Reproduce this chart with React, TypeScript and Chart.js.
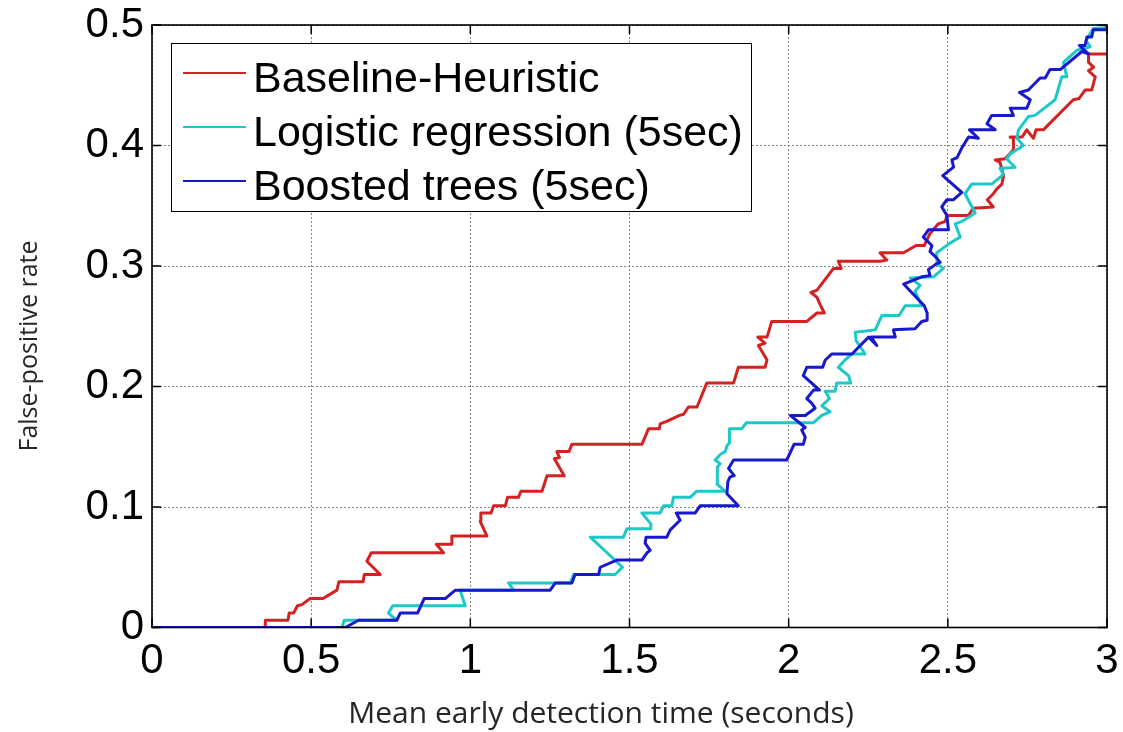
import React, { useEffect, useRef } from "react";
import { Chart, registerables } from "chart.js";

Chart.register(...registerables);

// ---------- data ----------
const seriesLabels = ["Baseline-Heuristic", "Logistic regression (5sec)", "Boosted trees (5sec)"];
const seriesColors = ["#D42222", "#1FC8C8", "#1818CC"];

const xTickLabels = ["0", "0.5", "1", "1.5", "2", "2.5", "3"];
const yTickLabels = ["0", "0.1", "0.2", "0.3", "0.4", "0.5"];

const heuristicX = [0, 0.356, 0.356, 0.427, 0.431, 0.445, 0.457, 0.471, 0.497, 0.537, 0.581, 0.587, 0.663, 0.667, 0.717, 0.675, 0.689, 0.916, 0.893, 0.942, 0.942, 1.052, 1.031, 1.033, 1.065, 1.073, 1.11, 1.117, 1.151, 1.159, 1.225, 1.241, 1.295, 1.264, 1.28, 1.272, 1.31, 1.319, 1.539, 1.56, 1.594, 1.596, 1.617, 1.657, 1.67, 1.685, 1.712, 1.743, 1.827, 1.842, 1.926, 1.932, 1.905, 1.926, 1.903, 1.932, 1.947, 2.057, 2.089, 2.112, 2.099, 2.089, 2.07, 2.089, 2.141, 2.165, 2.156, 2.287, 2.308, 2.287, 2.361, 2.4, 2.426, 2.444, 2.47, 2.492, 2.497, 2.565, 2.58, 2.643, 2.624, 2.643, 2.654, 2.67, 2.675, 2.664, 2.649, 2.68, 2.705, 2.706, 2.696, 2.733, 2.748, 2.769, 2.777, 2.8, 2.894, 2.912, 2.931, 2.952, 2.963, 2.942, 2.958, 2.942, 2.942, 3.0];
const heuristicY = [0, 0, 0.006, 0.006, 0.012, 0.012, 0.018, 0.019, 0.024, 0.024, 0.031, 0.038, 0.038, 0.044, 0.044, 0.055, 0.062, 0.062, 0.069, 0.069, 0.076, 0.076, 0.088, 0.095, 0.095, 0.101, 0.101, 0.108, 0.108, 0.113, 0.113, 0.126, 0.126, 0.14, 0.141, 0.146, 0.146, 0.152, 0.152, 0.165, 0.165, 0.169, 0.171, 0.176, 0.177, 0.183, 0.183, 0.203, 0.203, 0.216, 0.216, 0.222, 0.234, 0.236, 0.241, 0.241, 0.254, 0.254, 0.261, 0.261, 0.268, 0.274, 0.278, 0.28, 0.298, 0.298, 0.304, 0.304, 0.305, 0.311, 0.311, 0.317, 0.317, 0.327, 0.335, 0.337, 0.342, 0.342, 0.348, 0.349, 0.355, 0.36, 0.364, 0.368, 0.375, 0.386, 0.388, 0.389, 0.396, 0.406, 0.407, 0.407, 0.413, 0.406, 0.413, 0.413, 0.438, 0.439, 0.446, 0.446, 0.457, 0.462, 0.465, 0.469, 0.476, 0.476];

const logisticX = [0, 0.597, 0.604, 0.769, 0.743, 0.756, 0.984, 0.968, 1.0, 1.136, 1.12, 1.314, 1.324, 1.455, 1.478, 1.458, 1.377, 1.481, 1.492, 1.565, 1.567, 1.539, 1.596, 1.607, 1.633, 1.638, 1.691, 1.71, 1.801, 1.775, 1.776, 1.785, 1.769, 1.787, 1.801, 1.806, 1.814, 1.814, 1.853, 1.867, 2.078, 2.104, 2.13, 2.104, 2.128, 2.115, 2.146, 2.151, 2.195, 2.188, 2.156, 2.177, 2.199, 2.24, 2.225, 2.212, 2.209, 2.272, 2.293, 2.347, 2.366, 2.418, 2.397, 2.413, 2.382, 2.455, 2.486, 2.466, 2.465, 2.507, 2.539, 2.523, 2.544, 2.586, 2.554, 2.575, 2.638, 2.675, 2.664, 2.711, 2.685, 2.696, 2.737, 2.717, 2.722, 2.753, 2.774, 2.837, 2.847, 2.858, 2.874, 2.863, 2.905, 2.947, 2.934, 2.957, 3.0];
const logisticY = [0, 0, 0.006, 0.006, 0.012, 0.018, 0.018, 0.031, 0.031, 0.031, 0.037, 0.037, 0.044, 0.044, 0.05, 0.055, 0.075, 0.075, 0.082, 0.082, 0.086, 0.095, 0.095, 0.101, 0.101, 0.108, 0.108, 0.113, 0.113, 0.119, 0.133, 0.136, 0.139, 0.144, 0.146, 0.151, 0.153, 0.165, 0.165, 0.17, 0.17, 0.176, 0.179, 0.184, 0.19, 0.196, 0.196, 0.203, 0.203, 0.209, 0.216, 0.222, 0.227, 0.227, 0.233, 0.238, 0.245, 0.247, 0.259, 0.259, 0.267, 0.267, 0.279, 0.284, 0.29, 0.291, 0.298, 0.302, 0.311, 0.319, 0.324, 0.335, 0.337, 0.344, 0.36, 0.368, 0.368, 0.376, 0.381, 0.382, 0.389, 0.393, 0.4, 0.406, 0.413, 0.424, 0.425, 0.438, 0.447, 0.457, 0.457, 0.469, 0.479, 0.482, 0.487, 0.497, 0.498];

const boostedX = [0, 0.607, 0.649, 0.769, 0.78, 0.834, 0.855, 0.921, 0.953, 1.251, 1.267, 1.319, 1.329, 1.403, 1.408, 1.46, 1.539, 1.555, 1.565, 1.549, 1.552, 1.617, 1.628, 1.659, 1.647, 1.706, 1.722, 1.842, 1.806, 1.809, 1.816, 1.829, 1.811, 1.827, 1.994, 2.017, 2.046, 2.052, 2.041, 2.052, 2.005, 2.052, 2.083, 2.073, 2.057, 2.078, 2.097, 2.046, 2.057, 2.107, 2.115, 2.136, 2.199, 2.225, 2.251, 2.277, 2.259, 2.335, 2.329, 2.397, 2.418, 2.435, 2.435, 2.426, 2.361, 2.418, 2.444, 2.439, 2.465, 2.476, 2.46, 2.444, 2.45, 2.423, 2.439, 2.502, 2.497, 2.481, 2.497, 2.518, 2.544, 2.484, 2.518, 2.513, 2.529, 2.544, 2.565, 2.596, 2.568, 2.649, 2.623, 2.638, 2.706, 2.696, 2.748, 2.759, 2.725, 2.753, 2.79, 2.806, 2.821, 2.853, 2.921, 2.942, 2.913, 2.931, 2.937, 2.952, 2.957, 3.0, 3.0];
const boostedY = [0, 0, 0.006, 0.006, 0.012, 0.012, 0.024, 0.024, 0.031, 0.031, 0.037, 0.037, 0.044, 0.044, 0.05, 0.056, 0.056, 0.062, 0.064, 0.07, 0.075, 0.075, 0.081, 0.089, 0.095, 0.095, 0.101, 0.101, 0.111, 0.121, 0.125, 0.126, 0.132, 0.139, 0.139, 0.152, 0.152, 0.158, 0.164, 0.166, 0.176, 0.176, 0.182, 0.186, 0.19, 0.197, 0.197, 0.209, 0.216, 0.216, 0.222, 0.227, 0.227, 0.234, 0.241, 0.234, 0.241, 0.241, 0.247, 0.248, 0.254, 0.255, 0.261, 0.267, 0.285, 0.291, 0.292, 0.297, 0.302, 0.303, 0.308, 0.312, 0.317, 0.324, 0.33, 0.33, 0.342, 0.349, 0.355, 0.355, 0.361, 0.375, 0.382, 0.388, 0.39, 0.398, 0.407, 0.406, 0.413, 0.413, 0.418, 0.425, 0.425, 0.431, 0.431, 0.438, 0.444, 0.446, 0.456, 0.456, 0.463, 0.463, 0.478, 0.476, 0.483, 0.483, 0.49, 0.49, 0.496, 0.496, 0.5];

const xTitle = "Mean early detection time (seconds)";
const yTitle = "False-positive rate";

// ---------- helpers ----------
const zip = (xs: number[], ys: number[]) => {
  const n = Math.min(xs.length, ys.length);
  const out: { x: number; y: number }[] = [];
  for (let i = 0; i < n; i++) out.push({ x: xs[i], y: ys[i] });
  return out;
};

const TICK_FONT = "'Liberation Sans', Arial, sans-serif";
const TITLE_FONT = "'Open Sans', 'Noto Sans', sans-serif";

const decorPlugin = {
  id: "matlabDecor",
  afterDatasetsDraw(chart: any) {
    const { ctx, chartArea } = chart;
    const { left, right, top, bottom } = chartArea;
    const xs = chart.scales.x;
    const ys = chart.scales.y;
    ctx.save();
    // inner ticks
    ctx.strokeStyle = "#000";
    ctx.lineWidth = 1.5;
    const tl = 9;
    ctx.beginPath();
    xs.ticks.forEach((t: any) => {
      const px = xs.getPixelForValue(t.value);
      ctx.moveTo(px, bottom);
      ctx.lineTo(px, bottom - tl);
      ctx.moveTo(px, top);
      ctx.lineTo(px, top + tl);
    });
    ys.ticks.forEach((t: any) => {
      const py = ys.getPixelForValue(t.value);
      ctx.moveTo(left, py);
      ctx.lineTo(left + tl, py);
      ctx.moveTo(right, py);
      ctx.lineTo(right - tl, py);
    });
    ctx.stroke();
    // frame
    ctx.lineWidth = 1.6;
    ctx.strokeRect(left, top, right - left, bottom - top);

    // legend box
    const bx = 171, by = 43, bw = 580, bh = 168;
    ctx.fillStyle = "#fff";
    ctx.fillRect(bx, by, bw, bh);
    ctx.lineWidth = 1;
    ctx.strokeStyle = "#000";
    ctx.strokeRect(bx + 0.5, by + 0.5, bw, bh);
    ctx.font = `43px ${TICK_FONT}`;
    ctx.textAlign = "left";
    ctx.textBaseline = "alphabetic";
    chart.data.datasets.forEach((ds: any, i: number) => {
      const ly = 73 + i * 54;
      ctx.strokeStyle = ds.borderColor;
      ctx.lineWidth = 2.2;
      ctx.beginPath();
      ctx.moveTo(183, ly);
      ctx.lineTo(246, ly);
      ctx.stroke();
      ctx.fillStyle = "#000";
      ctx.fillText(ds.label, 253, ly + 19);
    });
    ctx.restore();
  },
  afterDraw(chart: any) {
    const { ctx } = chart;
    ctx.save();
    ctx.fillStyle = "#262626";
    ctx.font = `30px ${TITLE_FONT}`;
    ctx.textAlign = "center";
    ctx.textBaseline = "alphabetic";
    ctx.fillText(xTitle, 601, 723);
    ctx.translate(37, 346);
    ctx.rotate(-Math.PI / 2);
    ctx.font = `25px ${TITLE_FONT}`;
    ctx.fillText(yTitle, 0, 0);
    ctx.restore();
  },
};

export default function App() {
  const ref = useRef<HTMLCanvasElement | null>(null);

  useEffect(() => {
    if (!ref.current) return;
    const seriesData = [zip(heuristicX, heuristicY), zip(logisticX, logisticY), zip(boostedX, boostedY)];
    const chart = new Chart(ref.current, {
      type: "scatter",
      data: {
        datasets: seriesData.map((d, i) => ({
          label: seriesLabels[i],
          data: d,
          showLine: true,
          borderColor: seriesColors[i],
          backgroundColor: seriesColors[i],
          borderWidth: 3,
          borderJoinStyle: "round",
          borderCapStyle: "butt",
          pointRadius: 0,
          pointHoverRadius: 0,
          tension: 0,
          fill: false,
          order: 2 - i,
        })),
      } as any,
      options: {
        animation: false,
        responsive: false,
        devicePixelRatio: 1,
        events: [],
        layout: { padding: { top: 25, right: 16, bottom: 0, left: 0 } },
        plugins: {
          legend: { display: false },
          tooltip: { enabled: false },
          title: { display: false },
        },
        scales: {
          x: {
            type: "linear",
            min: 0,
            max: 3,
            afterFit: (s: any) => {
              s.height = 104.5;
              s.paddingLeft = 0;
              s.paddingRight = 0;
            },
            ticks: {
              stepSize: 0.5,
              autoSkip: false,
              maxRotation: 0,
              padding: 9,
              color: "#000",
              font: { family: TICK_FONT, size: 42 },
              callback: (_v: any, i: number) => xTickLabels[i],
            },
            grid: { color: "#858585", lineWidth: 1, drawTicks: false },
            border: { display: false, dash: [2, 2] },
          },
          y: {
            type: "linear",
            min: 0,
            max: 0.5,
            afterFit: (s: any) => {
              s.width = 152;
              s.paddingTop = 0;
              s.paddingBottom = 0;
            },
            ticks: {
              stepSize: 0.1,
              autoSkip: false,
              padding: 8,
              color: "#000",
              font: { family: TICK_FONT, size: 42 },
              callback: (_v: any, i: number) => yTickLabels[i],
            },
            grid: { color: "#858585", lineWidth: 1, drawTicks: false },
            border: { display: false, dash: [2, 2] },
          },
        },
      } as any,
      plugins: [decorPlugin],
    });
    return () => chart.destroy();
  }, []);

  return (
    <canvas
      ref={ref}
      width={1123}
      height={732}
      style={{ position: "absolute", left: 0, top: 0, width: 1123, height: 732, display: "block" }}
    />
  );
}
